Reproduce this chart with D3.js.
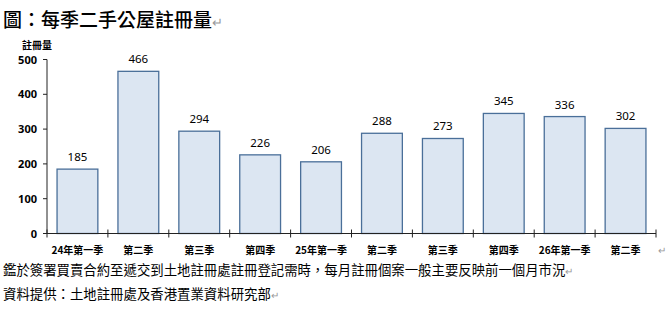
<!DOCTYPE html>
<html>
<head>
<meta charset="utf-8">
<script src="https://cdnjs.cloudflare.com/ajax/libs/d3/7.8.5/d3.min.js"></script>
<style>
  body { margin: 0; background: #fff; }
  svg { display: block; font-family: "Noto Sans", "Noto Sans CJK TC", sans-serif; }
</style>
</head>
<body>
<script>
var quarters = ["24年第一季", "第二季", "第三季", "第四季", "25年第一季", "第二季", "第三季", "第四季", "26年第一季", "第二季"];
var registrations = [185, 466, 294, 226, 206, 288, 273, 345, 336, 302];
var yTicks = [0, 100, 200, 300, 400, 500];

var width = 666, height = 310;

var svg = d3.select("body").append("svg")
  .attr("width", width).attr("height", height);

// title
var title = svg.append("text")
  .attr("x", 3).attr("y", 27)
  .attr("font-size", 19).attr("font-weight", 500)
  .attr("font-family", "'Noto Sans CJK TC', sans-serif")
  .attr("fill", "#000");
title.append("tspan").text("圖：每季二手公屋註冊量");
title.append("tspan").attr("fill", "#999").attr("font-weight", "normal").attr("font-size", 13).text("↵");

var x = d3.scaleBand()
  .domain(d3.range(quarters.length))
  .range([47, 656])
  .paddingInner(0.33).paddingOuter(0.165);

var y = d3.scaleLinear().domain([0, 500]).range([233.5, 59.5]);

// y axis
svg.append("line")
  .attr("x1", 47).attr("x2", 47)
  .attr("y1", y(500)).attr("y2", y(0))
  .attr("stroke", "#222").attr("stroke-width", 1);

svg.selectAll(".ytick").data(yTicks).enter().append("line")
  .attr("x1", 43).attr("x2", 47)
  .attr("y1", d => y(d)).attr("y2", d => y(d))
  .attr("stroke", "#222");

svg.selectAll(".ylab").data(yTicks).enter().append("text")
  .attr("x", 37).attr("y", d => y(d) + 4)
  .attr("text-anchor", "end")
  .attr("font-size", 11).attr("font-weight", "bold")
  .text(d => d);

svg.append("text")
  .attr("x", 22).attr("y", 49)
  .attr("font-size", 10).attr("font-weight", "bold")
  .attr("font-family", "'Noto Sans CJK TC', sans-serif")
  .text("註冊量");

// bars
svg.selectAll(".bar").data(registrations).enter().append("rect")
  .attr("x", (d, i) => x(i))
  .attr("y", d => y(d))
  .attr("width", x.bandwidth())
  .attr("height", d => y(0) - y(d))
  .attr("fill", "#dce6f2")
  .attr("stroke", "#4a6f99")
  .attr("stroke-width", 1.3);

svg.selectAll(".val").data(registrations).enter().append("text")
  .attr("x", (d, i) => x(i) + x.bandwidth() / 2)
  .attr("y", d => y(d) - 8)
  .attr("text-anchor", "middle")
  .attr("font-size", 11.5)
  .text(d => d);

// x axis
svg.append("line")
  .attr("x1", 47).attr("x2", 656)
  .attr("y1", y(0)).attr("y2", y(0))
  .attr("stroke", "#222");

var step = x.step();
svg.selectAll(".xtick").data(d3.range(quarters.length + 1)).enter().append("line")
  .attr("x1", d => 47 + d * step).attr("x2", d => 47 + d * step)
  .attr("y1", y(0) - 4).attr("y2", y(0) + 4)
  .attr("stroke", "#222");

svg.selectAll(".xlab").data(quarters).enter().append("text")
  .attr("x", (d, i) => x(i) + x.bandwidth() / 2)
  .attr("y", 254)
  .attr("text-anchor", "middle")
  .attr("font-size", 10).attr("font-weight", "bold")
  .attr("font-family", "'Noto Sans CJK TC', sans-serif")
  .text(d => d);

svg.append("text")
  .attr("x", 658).attr("y", 254)
  .attr("font-size", 10).attr("fill", "#999")
  .text("↵");

// notes
var notes = [
  "鑑於簽署買賣合約至遞交到土地註冊處註冊登記需時，每月註冊個案一般主要反映前一個月市況",
  "資料提供：土地註冊處及香港置業資料研究部"
];
svg.selectAll(".note").data(notes).enter().append("text")
  .attr("x", 3).attr("y", (d, i) => 275 + i * 24)
  .attr("font-size", 13.4)
  .attr("font-family", "'Noto Sans CJK TC', sans-serif")
  .each(function(d) {
    d3.select(this).append("tspan").text(d);
    d3.select(this).append("tspan").attr("fill", "#999").attr("font-size", 10).text("↵");
  });
</script>
</body>
</html>
